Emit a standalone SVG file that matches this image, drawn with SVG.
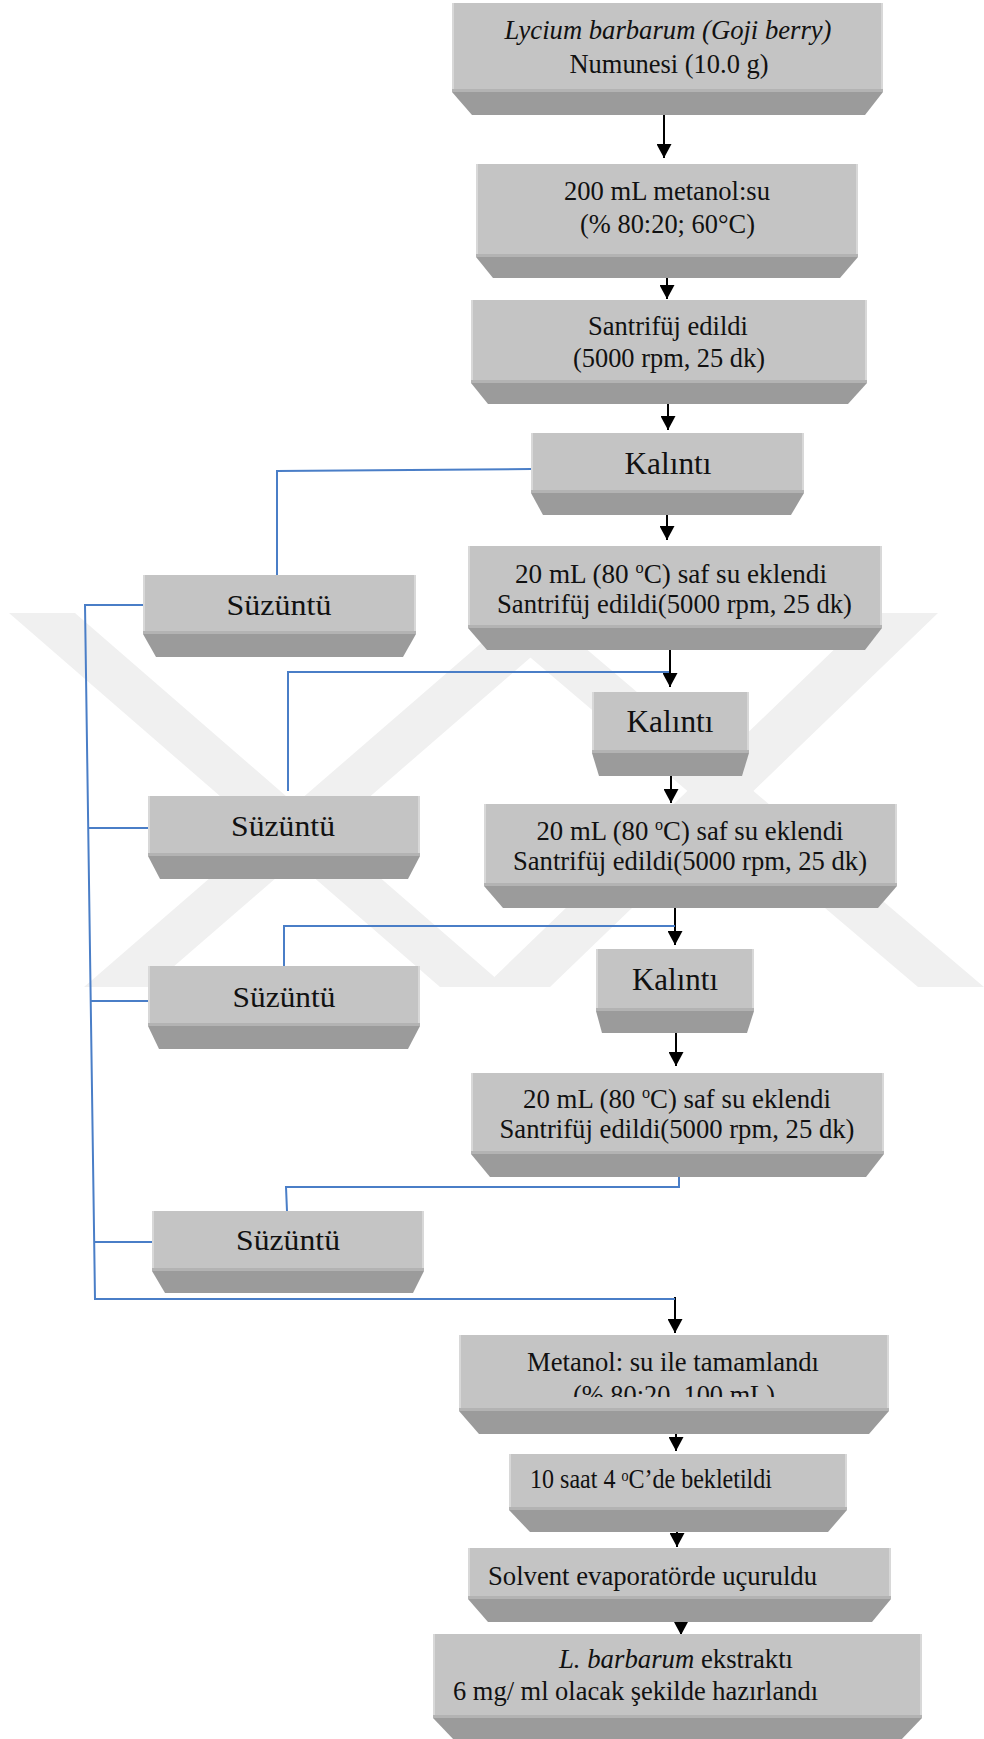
<svg xmlns="http://www.w3.org/2000/svg" width="984" height="1739" viewBox="0 0 984 1739">
<defs>
<style>
.face{fill:#C4C4C4}
.edge{fill:#D8D8D8}
.sep{fill:#B3B3B3}
.bevel{fill:#9B9B9B}
.wm{fill:#F0F0F0}
.t{font-family:"Liberation Serif","Times New Roman",serif;font-size:26.5px;fill:#111;text-anchor:middle}
.ts{font-family:"Liberation Serif","Times New Roman",serif;font-size:26.5px;fill:#111}
.k{font-size:31px}
.s{font-size:30px}
.i{font-style:italic}
.blue{stroke:#4A7EC7;stroke-width:2;fill:none}
.arr{stroke:#000;stroke-width:2;fill:none;marker-end:url(#ah)}
</style>
<marker id="ah" markerUnits="userSpaceOnUse" markerWidth="15" markerHeight="15" refX="14" refY="7.5" orient="auto">
<path d="M0,0 L14,7.5 L0,15 Z" fill="#000"/>
</marker>
<clipPath id="c1"><rect x="440" y="1330" width="460" height="67"/></clipPath>
<clipPath id="c3"><rect x="440" y="1540" width="460" height="52"/></clipPath>
</defs>
<rect width="984" height="1739" fill="#FFFFFF"/>
<g id="watermark">
<polygon class="wm" points="9,613 75,613 506,987 440,987"/>
<polygon class="wm" points="516,613 582,613 150,987 84,987"/>
<polygon class="wm" points="478,613 544,613 984,987 918,987"/>
<polygon class="wm" points="872,613 938,613 550,987 484,987"/>
</g>
<g id="connectors">
<line class="arr" x1="664" y1="115" x2="664" y2="158"/>
<line class="arr" x1="667" y1="278" x2="667" y2="299"/>
<line class="arr" x1="668" y1="404" x2="668" y2="430"/>
<line class="arr" x1="667" y1="515" x2="667" y2="540"/>
<line class="arr" x1="670" y1="650" x2="670" y2="687"/>
<line class="arr" x1="671" y1="776" x2="671" y2="803"/>
<line class="arr" x1="675" y1="908" x2="675" y2="945"/>
<line class="arr" x1="676" y1="1030" x2="676" y2="1066"/>
<line class="arr" x1="675" y1="1297" x2="675" y2="1333"/>
<line class="arr" x1="676" y1="1434" x2="676" y2="1451"/>
<line class="arr" x1="677" y1="1532" x2="677" y2="1547"/>
<line class="arr" x1="681" y1="1622" x2="681" y2="1635"/>
<polyline class="blue" points="531,469 277,471 277,575"/>
<polyline class="blue" points="669,672 288,672 288,791"/>
<polyline class="blue" points="675,926 284,926 284,966"/>
<polyline class="blue" points="679,1177 679,1187 286,1187 287,1211"/>
<polyline class="blue" points="143,605 85,605 95,1299 675,1299"/>
<line class="blue" x1="88" y1="828" x2="148" y2="828"/>
<line class="blue" x1="91" y1="1001" x2="148" y2="1001"/>
<line class="blue" x1="94" y1="1242" x2="152" y2="1242"/>
</g>
<g id="n1">
<rect class="face" x="452" y="3" width="431" height="88"/>
<path class="edge" d="M452 3h2v88h-2zM881 3h2v88h-2z"/>
<rect class="sep" x="452" y="89" width="431" height="3"/>
<polygon class="bevel" points="452,92 883,92 865,115 472,115"/>
<text class="t i" x="668" y="39" textLength="327" lengthAdjust="spacingAndGlyphs">Lycium barbarum (Goji berry)</text>
<text class="t" x="669" y="73" textLength="199" lengthAdjust="spacingAndGlyphs">Numunesi (10.0 g)</text>
</g>
<g id="n2">
<rect class="face" x="476" y="164" width="382" height="92"/>
<path class="edge" d="M476 164h2v92h-2zM856 164h2v92h-2z"/>
<rect class="sep" x="476" y="254" width="382" height="3"/>
<polygon class="bevel" points="476,257 858,257 840,278 493,278"/>
<text class="t" x="667" y="200" textLength="206" lengthAdjust="spacingAndGlyphs">200 mL metanol:su</text>
<text class="t" x="667.5" y="233" textLength="175" lengthAdjust="spacingAndGlyphs">(% 80:20; 60°C)</text>
</g>
<g id="n3">
<rect class="face" x="471" y="300" width="396" height="82"/>
<path class="edge" d="M471 300h2v82h-2zM865 300h2v82h-2z"/>
<rect class="sep" x="471" y="380" width="396" height="3"/>
<polygon class="bevel" points="471,383 867,383 848,404 488,404"/>
<text class="t" x="668" y="335" textLength="160" lengthAdjust="spacingAndGlyphs">Santrifüj edildi</text>
<text class="t" x="669" y="367" textLength="192" lengthAdjust="spacingAndGlyphs">(5000 rpm, 25 dk)</text>
</g>
<g id="n4">
<rect class="face" x="531" y="433" width="273" height="59"/>
<path class="edge" d="M531 433h2v59h-2zM802 433h2v59h-2z"/>
<rect class="sep" x="531" y="490" width="273" height="3"/>
<polygon class="bevel" points="531,493 804,493 791,515 543,515"/>
<text class="t k" x="668" y="474" textLength="87" lengthAdjust="spacingAndGlyphs">Kalıntı</text>
</g>
<g id="n5">
<rect class="face" x="143" y="575" width="273" height="58"/>
<path class="edge" d="M143 575h2v58h-2zM414 575h2v58h-2z"/>
<rect class="sep" x="143" y="631" width="273" height="3"/>
<polygon class="bevel" points="143,634 416,634 403,657 156,657"/>
<text class="t s" x="279" y="615" textLength="105" lengthAdjust="spacingAndGlyphs">Süzüntü</text>
</g>
<g id="n6">
<rect class="face" x="468" y="546" width="414" height="81"/>
<path class="edge" d="M468 546h2v81h-2zM880 546h2v81h-2z"/>
<rect class="sep" x="468" y="625" width="414" height="3"/>
<polygon class="bevel" points="468,628 882,628 865,650 487,650"/>
<text class="t" x="671" y="583" textLength="312" lengthAdjust="spacingAndGlyphs">20 mL (80 <tspan font-size="16" dy="-10">o</tspan><tspan dy="10">C) saf su eklendi</tspan></text>
<text class="t" x="674.5" y="613" textLength="355" lengthAdjust="spacingAndGlyphs">Santrifüj edildi(5000 rpm, 25 dk)</text>
</g>
<g id="n7">
<rect class="face" x="592" y="692" width="157" height="60"/>
<path class="edge" d="M592 692h2v60h-2zM747 692h2v60h-2z"/>
<rect class="sep" x="592" y="750" width="157" height="3"/>
<polygon class="bevel" points="592,753 749,753 742,776 599,776"/>
<text class="t k" x="670" y="732" textLength="87" lengthAdjust="spacingAndGlyphs">Kalıntı</text>
</g>
<g id="n8">
<rect class="face" x="148" y="796" width="272" height="59"/>
<path class="edge" d="M148 796h2v59h-2zM418 796h2v59h-2z"/>
<rect class="sep" x="148" y="853" width="272" height="3"/>
<polygon class="bevel" points="148,856 420,856 408,879 160,879"/>
<text class="t s" x="283" y="836" textLength="104" lengthAdjust="spacingAndGlyphs">Süzüntü</text>
</g>
<g id="n9">
<rect class="face" x="484" y="804" width="413" height="81"/>
<path class="edge" d="M484 804h2v81h-2zM895 804h2v81h-2z"/>
<rect class="sep" x="484" y="883" width="413" height="3"/>
<polygon class="bevel" points="484,886 897,886 878,908 503,908"/>
<text class="t" x="690" y="840" textLength="307" lengthAdjust="spacingAndGlyphs">20 mL (80 <tspan font-size="16" dy="-10">o</tspan><tspan dy="10">C) saf su eklendi</tspan></text>
<text class="t" x="690" y="870" textLength="354" lengthAdjust="spacingAndGlyphs">Santrifüj edildi(5000 rpm, 25 dk)</text>
</g>
<g id="n10">
<rect class="face" x="148" y="966" width="272" height="59"/>
<path class="edge" d="M148 966h2v59h-2zM418 966h2v59h-2z"/>
<rect class="sep" x="148" y="1023" width="272" height="3"/>
<polygon class="bevel" points="148,1026 420,1026 408,1049 159,1049"/>
<text class="t s" x="284" y="1007" textLength="103" lengthAdjust="spacingAndGlyphs">Süzüntü</text>
</g>
<g id="n11">
<rect class="face" x="596" y="949" width="158" height="61"/>
<path class="edge" d="M596 949h2v61h-2zM752 949h2v61h-2z"/>
<rect class="sep" x="596" y="1008" width="158" height="3"/>
<polygon class="bevel" points="596,1011 754,1011 747,1033 602,1033"/>
<text class="t k" x="675" y="990" textLength="86" lengthAdjust="spacingAndGlyphs">Kalıntı</text>
</g>
<g id="n12">
<rect class="face" x="471" y="1073" width="413" height="80"/>
<path class="edge" d="M471 1073h2v80h-2zM882 1073h2v80h-2z"/>
<rect class="sep" x="471" y="1151" width="413" height="3"/>
<polygon class="bevel" points="471,1154 884,1154 866,1177 490,1177"/>
<text class="t" x="677" y="1108" textLength="308" lengthAdjust="spacingAndGlyphs">20 mL (80 <tspan font-size="16" dy="-10">o</tspan><tspan dy="10">C) saf su eklendi</tspan></text>
<text class="t" x="677" y="1138" textLength="355" lengthAdjust="spacingAndGlyphs">Santrifüj edildi(5000 rpm, 25 dk)</text>
</g>
<g id="n13">
<rect class="face" x="152" y="1211" width="272" height="59"/>
<path class="edge" d="M152 1211h2v59h-2zM422 1211h2v59h-2z"/>
<rect class="sep" x="152" y="1268" width="272" height="3"/>
<polygon class="bevel" points="152,1271 424,1271 413,1293 165,1293"/>
<text class="t s" x="288" y="1250" textLength="104" lengthAdjust="spacingAndGlyphs">Süzüntü</text>
</g>
<g id="n14">
<rect class="face" x="459" y="1335" width="430" height="75"/>
<path class="edge" d="M459 1335h2v75h-2zM887 1335h2v75h-2z"/>
<rect class="sep" x="459" y="1408" width="430" height="3"/>
<polygon class="bevel" points="459,1411 889,1411 869,1434 479,1434"/>
<text class="t" x="673" y="1371" textLength="292" lengthAdjust="spacingAndGlyphs">Metanol: su ile tamamlandı</text>
<text class="t" x="674" y="1404" font-size="25" textLength="202" lengthAdjust="spacingAndGlyphs" clip-path="url(#c1)">(% 80:20, 100 mL)</text>
</g>
<g id="n15">
<rect class="face" x="509" y="1454" width="338" height="55"/>
<path class="edge" d="M509 1454h2v55h-2zM845 1454h2v55h-2z"/>
<rect class="sep" x="509" y="1507" width="338" height="3"/>
<polygon class="bevel" points="509,1510 847,1510 828,1532 530,1532"/>
<text class="ts" x="530" y="1488" font-size="24" textLength="242" lengthAdjust="spacingAndGlyphs">10 saat 4 ᵒC’de bekletildi</text>
</g>
<g id="n16">
<rect class="face" x="468" y="1548" width="423" height="50"/>
<path class="edge" d="M468 1548h2v50h-2zM889 1548h2v50h-2z"/>
<rect class="sep" x="468" y="1596" width="423" height="3"/>
<polygon class="bevel" points="468,1599 891,1599 872,1622 488,1622"/>
<text class="ts" x="488" y="1585" textLength="329" lengthAdjust="spacingAndGlyphs" clip-path="url(#c3)">Solvent evaporatörde uçuruldu</text>
</g>
<g id="n17">
<rect class="face" x="433" y="1634" width="489" height="83"/>
<path class="edge" d="M433 1634h2v83h-2zM920 1634h2v83h-2z"/>
<rect class="sep" x="433" y="1715" width="489" height="3"/>
<polygon class="bevel" points="433,1718 922,1718 900,1741 455,1741"/>
<text class="ts" x="559" y="1668" textLength="234" lengthAdjust="spacingAndGlyphs"><tspan class="i">L. barbarum</tspan> ekstraktı</text>
<text class="ts" x="453" y="1700" textLength="365" lengthAdjust="spacingAndGlyphs">6 mg/ ml olacak şekilde hazırlandı</text>
</g>
</svg>
